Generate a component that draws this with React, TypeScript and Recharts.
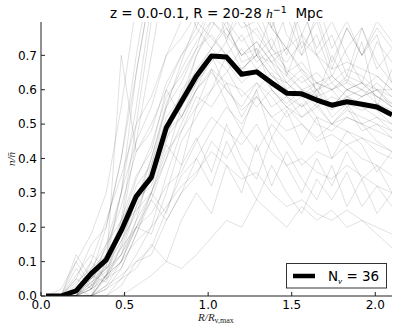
import React from 'react';
import { LineChart, Line, XAxis, YAxis } from 'recharts';

// bin centres in units of R/R_v,max
const binCentres = [
  0.03, 0.12, 0.21, 0.3, 0.39, 0.48, 0.57, 0.66, 0.75, 0.84, 0.93, 1.02,
  1.11, 1.2, 1.29, 1.38, 1.47, 1.56, 1.65, 1.74, 1.83, 1.92, 2.01, 2.1,
];

// stacked (mean) profile - the thick black line
const meanProfile = [
  0, 0, 0.015, 0.065, 0.105, 0.19, 0.29, 0.345, 0.49, 0.565, 0.64, 0.698,
  0.695, 0.645, 0.652, 0.62, 0.59, 0.588, 0.57, 0.555, 0.565, 0.558, 0.55, 0.527,
];

// individual voids (thin grey lines)
const voidProfiles: number[][] = [
  [0, 0, 0, 0.05, 0.12, 0.3, 0.55, 0.85, 1.0, 0.9, 0.78, 0.92, 0.74, 0.88, 0.7, 0.82, 0.64, 0.76, 0.58, 0.7, 0.62, 0.74, 0.55, 0.66],
  [0, 0, 0.1, 0.03, 0.15, 0.22, 0.35, 0.42, 0.6, 0.7, 0.78, 0.72, 0.8, 0.68, 0.7, 0.75, 0.65, 0.6, 0.62, 0.55, 0.6, 0.58, 0.6, 0.55],
  [0, 0, 0, 0, 0.05, 0.08, 0.18, 0.3, 0.44, 0.38, 0.55, 0.66, 0.56, 0.48, 0.6, 0.46, 0.54, 0.44, 0.52, 0.4, 0.48, 0.44, 0.36, 0.42],
  [0, 0, 0, 0.1, 0.05, 0.2, 0.45, 0.7, 0.95, 1.05, 1.1, 0.95, 1.0, 0.85, 0.92, 0.78, 0.88, 0.72, 0.8, 0.66, 0.78, 0.7, 0.76, 0.62],
  [0, 0, 0, 0, 0, 0.03, 0.1, 0.12, 0.22, 0.3, 0.35, 0.45, 0.4, 0.48, 0.42, 0.5, 0.45, 0.38, 0.42, 0.4, 0.44, 0.4, 0.38, 0.35],
  [0, 0, 0.05, 0.15, 0.2, 0.4, 0.7, 0.95, 1.1, 1.2, 1.0, 1.05, 0.9, 0.98, 0.85, 0.72, 0.82, 0.7, 0.76, 0.64, 0.72, 0.78, 0.66, 0.72],
  [0, 0, 0, 0.04, 0.08, 0.12, 0.2, 0.18, 0.3, 0.45, 0.52, 0.6, 0.7, 0.65, 0.72, 0.6, 0.55, 0.58, 0.52, 0.5, 0.55, 0.48, 0.5, 0.46],
  [0, 0, 0, 0, 0.02, 0.05, 0.08, 0.15, 0.1, 0.22, 0.3, 0.24, 0.38, 0.3, 0.44, 0.32, 0.42, 0.34, 0.28, 0.38, 0.26, 0.34, 0.24, 0.3],
  [0, 0, 0, 0.06, 0.04, 0.15, 0.28, 0.4, 0.55, 0.62, 0.72, 0.85, 0.78, 0.7, 0.74, 0.68, 0.6, 0.64, 0.58, 0.6, 0.55, 0.58, 0.6, 0.56],
  [0, 0, 0.02, 0, 0.1, 0.3, 0.65, 0.9, 1.1, 1.2, 1.1, 0.95, 1.0, 0.82, 0.94, 0.8, 0.7, 0.84, 0.72, 0.8, 0.7, 0.62, 0.74, 0.68],
  [0, 0, 0, 0, 0, 0, 0.03, 0.06, 0.1, 0.08, 0.12, 0.17, 0.22, 0.2, 0.28, 0.24, 0.2, 0.26, 0.22, 0.25, 0.2, 0.22, 0.18, 0.14],
  [0, 0, 0.08, 0.02, 0.06, 0.1, 0.2, 0.3, 0.42, 0.48, 0.58, 0.55, 0.62, 0.52, 0.6, 0.65, 0.58, 0.55, 0.6, 0.52, 0.56, 0.5, 0.52, 0.48],
  [0, 0, 0, 0.02, 0.1, 0.18, 0.32, 0.38, 0.52, 0.58, 0.7, 0.8, 0.75, 0.82, 0.7, 0.68, 0.72, 0.65, 0.6, 0.64, 0.6, 0.62, 0.58, 0.55],
  [0, 0, 0, 0, 0.06, 0.12, 0.22, 0.3, 0.24, 0.38, 0.46, 0.36, 0.5, 0.4, 0.34, 0.46, 0.38, 0.3, 0.4, 0.32, 0.42, 0.34, 0.38, 0.3],
  [0, 0, 0, 0.08, 0.15, 0.3, 0.45, 0.55, 0.7, 0.75, 0.82, 0.9, 0.85, 0.78, 0.8, 0.72, 0.68, 0.74, 0.7, 0.62, 0.66, 0.64, 0.6, 0.58],
  [0, 0.02, 0.1, 0.18, 0.3, 0.55, 0.85, 1.05, 1.15, 1.0, 1.1, 1.15, 0.98, 0.86, 0.96, 0.82, 0.88, 0.76, 0.86, 0.72, 0.8, 0.7, 0.78, 0.72],
  [0, 0, 0, 0, 0.03, 0.06, 0.1, 0.14, 0.25, 0.35, 0.4, 0.48, 0.55, 0.5, 0.58, 0.52, 0.48, 0.5, 0.45, 0.47, 0.44, 0.46, 0.42, 0.4],
  [0, 0, 0, 0.05, 0.1, 0.22, 0.3, 0.35, 0.5, 0.55, 0.62, 0.68, 0.74, 0.66, 0.7, 0.64, 0.6, 0.55, 0.58, 0.54, 0.58, 0.55, 0.52, 0.5],
  [0, 0, 0.04, 0.08, 0.12, 0.2, 0.25, 0.3, 0.4, 0.5, 0.6, 0.65, 0.6, 0.55, 0.62, 0.58, 0.52, 0.56, 0.5, 0.48, 0.52, 0.5, 0.45, 0.42],
  [0, 0, 0, 0.02, 0.05, 0.1, 0.22, 0.38, 0.55, 0.68, 0.8, 0.75, 0.7, 0.76, 0.68, 0.72, 0.66, 0.62, 0.65, 0.6, 0.62, 0.6, 0.58, 0.55],
  [0, 0, 0, 0, 0.06, 0.22, 0.5, 0.8, 1.0, 1.1, 1.0, 1.1, 0.9, 0.8, 0.92, 0.78, 0.72, 0.86, 0.7, 0.76, 0.64, 0.78, 0.68, 0.62],
  [0, 0, 0.06, 0.12, 0.08, 0.14, 0.2, 0.24, 0.32, 0.36, 0.45, 0.52, 0.48, 0.44, 0.5, 0.42, 0.38, 0.4, 0.36, 0.34, 0.38, 0.35, 0.32, 0.3],
  [0, 0, 0, 0.03, 0.08, 0.16, 0.28, 0.32, 0.45, 0.6, 0.65, 0.72, 0.68, 0.62, 0.66, 0.6, 0.56, 0.6, 0.58, 0.55, 0.6, 0.58, 0.62, 0.58],
  [0, 0, 0, 0, 0, 0.05, 0.12, 0.2, 0.35, 0.48, 0.55, 0.6, 0.65, 0.72, 0.66, 0.7, 0.62, 0.58, 0.62, 0.6, 0.64, 0.62, 0.6, 0.6],
  [0, 0, 0.03, 0.1, 0.22, 0.35, 0.5, 0.58, 0.7, 0.8, 0.88, 0.82, 0.92, 0.8, 0.76, 0.7, 0.72, 0.66, 0.62, 0.64, 0.6, 0.62, 0.58, 0.56],
  [0, 0, 0, 0, 0.02, 0.08, 0.18, 0.28, 0.22, 0.3, 0.4, 0.32, 0.45, 0.36, 0.28, 0.38, 0.3, 0.24, 0.34, 0.28, 0.36, 0.26, 0.32, 0.26],
  [0, 0, 0.02, 0.06, 0.14, 0.26, 0.42, 0.48, 0.62, 0.7, 0.76, 0.84, 0.8, 0.74, 0.78, 0.7, 0.65, 0.68, 0.62, 0.6, 0.63, 0.6, 0.64, 0.6],
  [0, 0, 0, 0.04, 0.07, 0.12, 0.26, 0.34, 0.46, 0.52, 0.6, 0.66, 0.62, 0.6, 0.55, 0.6, 0.55, 0.52, 0.56, 0.5, 0.54, 0.52, 0.5, 0.48],
  [0, 0, 0, 0, 0.03, 0.1, 0.2, 0.28, 0.4, 0.55, 0.7, 0.78, 0.86, 0.8, 0.84, 0.78, 0.72, 0.76, 0.7, 0.66, 0.68, 0.66, 0.64, 0.6],
  [0, 0, 0.05, 0.02, 0.12, 0.2, 0.3, 0.36, 0.48, 0.52, 0.6, 0.7, 0.66, 0.58, 0.62, 0.55, 0.58, 0.52, 0.55, 0.5, 0.52, 0.5, 0.48, 0.46],
  [0, 0, 0, 0.06, 0.2, 0.4, 0.65, 0.9, 1.05, 0.95, 1.05, 0.98, 0.86, 0.94, 0.8, 0.9, 0.76, 0.7, 0.82, 0.68, 0.78, 0.7, 0.8, 0.74],
  [0, 0, 0, 0, 0.06, 0.1, 0.16, 0.2, 0.26, 0.32, 0.36, 0.42, 0.38, 0.34, 0.36, 0.3, 0.26, 0.28, 0.24, 0.22, 0.25, 0.22, 0.2, 0.18],
  [0, 0, 0.02, 0.05, 0.1, 0.2, 0.34, 0.44, 0.58, 0.64, 0.72, 0.76, 0.7, 0.66, 0.7, 0.64, 0.62, 0.58, 0.6, 0.55, 0.58, 0.56, 0.54, 0.5],
  [0, 0, 0, 0.02, 0.09, 0.16, 0.24, 0.36, 0.5, 0.58, 0.66, 0.72, 0.78, 0.7, 0.74, 0.68, 0.64, 0.6, 0.55, 0.58, 0.56, 0.54, 0.56, 0.52],
  [0, 0, 0.12, 0.05, 0.08, 0.7, 0.42, 0.5, 0.6, 0.52, 0.62, 0.7, 0.6, 0.54, 0.58, 0.52, 0.55, 0.5, 0.46, 0.5, 0.48, 0.46, 0.44, 0.42],
  [0, 0, 0, 0.03, 0.06, 0.14, 0.26, 0.4, 0.56, 0.66, 0.74, 0.8, 0.76, 0.7, 0.72, 0.66, 0.62, 0.66, 0.6, 0.62, 0.58, 0.6, 0.56, 0.54],
];

const xTicks = [0, 0.5, 1.0, 1.5, 2.0];
const yTicks = [0, 0.1, 0.2, 0.3, 0.4, 0.5, 0.6, 0.7];

const W = 399;
const H = 330;
const FONT = '"DejaVu Sans", sans-serif';
const MATH = '"Liberation Serif", "DejaVu Serif", serif';

const tickStyle = { fill: '#000', fontSize: 12, fontFamily: FONT };

const App: React.FC = () => {
  const rows = binCentres.map((x, i) => {
    const r: Record<string, number> = { x, mean: meanProfile[i] };
    voidProfiles.forEach((v, j) => {
      r['v' + j] = v[i];
    });
    return r;
  });

  return (
    <div style={{ position: 'absolute', left: 0, top: 0, width: W, height: H, background: '#fff' }}>
      <LineChart width={W} height={H} data={rows} margin={{ top: 22, right: 7, bottom: 0, left: 0 }}>
        <XAxis
          dataKey="x"
          type="number"
          domain={[0, 2.1]}
          ticks={xTicks}
          allowDataOverflow
          tickFormatter={(v: number) => v.toFixed(1)}
          height={34}
          tickSize={-4}
          tickMargin={8}
          tick={tickStyle}
          stroke="#222"
        />
        <XAxis
          xAxisId="top"
          orientation="top"
          dataKey="x"
          type="number"
          domain={[0, 2.1]}
          ticks={xTicks}
          allowDataOverflow
          height={0}
          tickSize={-4}
          tick={false}
          stroke="#222"
        />
        <YAxis
          type="number"
          domain={[0, 0.797]}
          ticks={yTicks}
          allowDataOverflow
          tickFormatter={(v: number) => v.toFixed(1)}
          width={41}
          tickSize={-4}
          tickMargin={8}
          tick={tickStyle}
          stroke="#222"
        />
        <YAxis
          yAxisId="right"
          orientation="right"
          type="number"
          domain={[0, 0.797]}
          ticks={yTicks}
          allowDataOverflow
          width={0}
          tickSize={-4}
          tick={false}
          stroke="#222"
        />
        {voidProfiles.map((_, j) => (
          <Line
            key={j}
            dataKey={'v' + j}
            stroke="#000"
            strokeOpacity={0.12}
            strokeWidth={1}
            dot={false}
            activeDot={false}
            isAnimationActive={false}
          />
        ))}
        <Line
          dataKey="mean"
          stroke="#000"
          strokeWidth={5}
          strokeLinejoin="round"
          dot={false}
          activeDot={false}
          isAnimationActive={false}
        />
      </LineChart>

      <svg width={W} height={H} style={{ position: 'absolute', left: 0, top: 0, pointerEvents: 'none' }}>
        <text x={216.5} y={18} textAnchor="middle" fontSize={13.5} fontFamily={FONT} style={{ whiteSpace: 'pre' }}>
          z = 0.0-0.1, R = 20-28 <tspan fontFamily={MATH} fontStyle="italic">h</tspan>
          <tspan dy={-5} fontSize={9.5}>−1</tspan>
          <tspan dy={5}>  Mpc</tspan>
        </text>
        <text
          transform="translate(15,159) rotate(-90)"
          textAnchor="middle"
          fontSize={11}
          fontFamily={MATH}
          fontStyle="italic"
          fill="#222"
        >
          n/n̄
        </text>
        <text x={216} y={321} textAnchor="middle" fontSize={11} fontFamily={MATH} fill="#222">
          <tspan fontStyle="italic">R/R</tspan>
          <tspan dy={2} fontSize={8}>v,max</tspan>
        </text>

        <rect x={286.5} y={263.5} width={100} height={24.5} fill="#fff" stroke="#333" strokeWidth={1} />
        <line x1={293} x2={315} y1={276} y2={276} stroke="#000" strokeWidth={4.5} />
        <text x={328} y={281} fontSize={13.5} fontFamily={FONT} style={{ whiteSpace: 'pre' }}>
          N<tspan dy={3} fontSize={9} fontFamily={MATH} fontStyle="italic">v</tspan>
          <tspan dy={-3}> = 36</tspan>
        </text>
      </svg>
    </div>
  );
};

export default App;
